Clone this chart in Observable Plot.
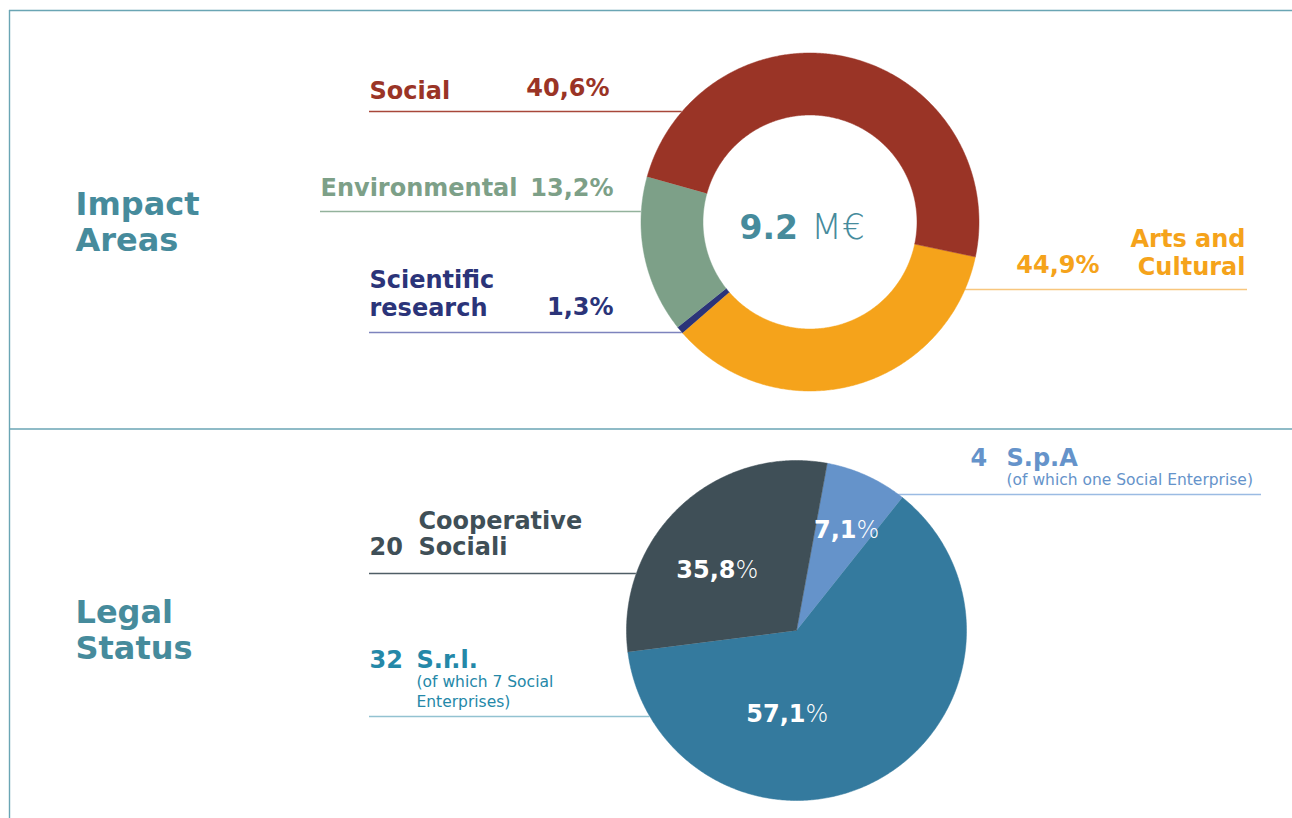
<!DOCTYPE html>
<html>
<head>
<meta charset="utf-8">
<script src="https://cdn.jsdelivr.net/npm/d3@7"></script>
<script src="https://cdn.jsdelivr.net/npm/@observablehq/plot@0.6"></script>
<style>
  html, body { margin: 0; padding: 0; background: #ffffff; }
  #chart svg { display: block; }
</style>
</head>
<body>
<div id="chart"></div>
<script>
// ---------------- DATA ----------------
// Impact areas (ring), clockwise from the Social/Arts boundary
const impactAreas = ["Arts and Cultural", "Scientific research", "Environmental", "Social"];
const impactPercentLabels = ["44,9%", "1,3%", "13,2%", "40,6%"];
// shares as they are drawn in the ring of the reference
const impactDrawnShares = [35.3, 0.7, 15.0, 49.0];
const impactColors = ["#f5a31b", "#2b3479", "#7da088", "#9a3426"];
const impactLineColors = ["#f8c67d", "#7d83bd", "#93b29c", "#a8473a"];
const totalFunding = "9.2";
const totalUnit = "M€";

// Legal status (pie), clockwise from the top
const legalTypes = ["S.p.A", "S.r.l.", "Cooperative Sociali"];
const legalCounts = ["4", "32", "20"];
const legalPercentLabels = ["7,1", "57,1", "35,8"];
// shares as they are drawn in the pie of the reference
const legalDrawnShares = [7.8, 62.3, 29.9];
const legalNotes = ["(of which one Social Enterprise)", "(of which 7 Social\nEnterprises)", ""];
const legalColors = ["#6593ca", "#347a9e", "#3f4f57"];
const legalLineColors = ["#9bbbe3", "#93c2d1", "#4f5e66"];
const legalTextColors = ["#6593ca", "#2488a8", "#3f4f57"];

const sectionTitles = ["Impact\nAreas", "Legal\nStatus"];

// ---------------- LAYOUT ----------------
const W = 1292, H = 818;
const FONT = "'DejaVu Sans', sans-serif";
const teal = "#468b9c";
const frameColor = "#6aa5b4";
const ring = {cx: 809.5, cy: 221.5, r0: 107, r1: 169, start: 101.9};
const pie = {cx: 796, cy: 630, r0: 0, r1: 170, start: 10.4};

// leader lines: y, far end x, side
const impactLeader = [
  {y: 289, far: 1247, side: 1},
  {y: 332, far: 369, side: -1},
  {y: 211, far: 320, side: -1},
  {y: 111, far: 369, side: -1}
];
const legalLeader = [
  {y: 494, far: 1261, side: 1},
  {y: 716, far: 369, side: -1},
  {y: 573, far: 369, side: -1}
];

// ---------------- GEOMETRY ----------------
function slicePolygons(keys, shares, g) {
  const total = d3.sum(shares);
  const pts = [];
  let a = g.start;
  keys.forEach((k, i) => {
    const span = shares[i] / total * 360;
    const a0 = a, a1 = a + span;
    a = a1;
    const n = Math.max(2, Math.ceil(span * 2));
    for (let j = 0; j <= n; j++) {
      const t = (a0 + (a1 - a0) * j / n) * Math.PI / 180;
      pts.push({key: k, x: g.cx + g.r1 * Math.sin(t), y: g.cy - g.r1 * Math.cos(t)});
    }
    if (g.r0 > 0) {
      for (let j = n; j >= 0; j--) {
        const t = (a0 + (a1 - a0) * j / n) * Math.PI / 180;
        pts.push({key: k, x: g.cx + g.r0 * Math.sin(t), y: g.cy - g.r0 * Math.cos(t)});
      }
    } else {
      pts.push({key: k, x: g.cx, y: g.cy});
    }
  });
  return pts;
}
function leaderRows(leaders, g, colors) {
  return leaders.map((d, i) => {
    const dy = d.y - g.cy;
    const near = g.cx + d.side * Math.sqrt(Math.max(0, g.r1 * g.r1 - dy * dy));
    return {y: d.y, x1: Math.min(near, d.far), x2: Math.max(near, d.far), color: colors[i]};
  });
}

const ringPts = slicePolygons(impactAreas, impactDrawnShares, ring);
const piePts = slicePolygons(legalTypes, legalDrawnShares, pie);
const leaders = [...leaderRows(impactLeader, ring, impactLineColors), ...leaderRows(legalLeader, pie, legalLineColors)];

// ---------------- TEXT ----------------
const marks = [];
function txt(x, y, text, o) {
  marks.push(Plot.text([0], {
    x: () => x, y: () => y, text: () => text,
    fill: o.color, fontSize: o.size, fontWeight: o.weight || "bold",
    textAnchor: o.anchor || "start", lineAnchor: "bottom",
    lineHeight: o.lh || 1.1, fontFamily: FONT
  }));
}

// frame
marks.push(Plot.ruleX([9], {y1: 10, y2: H, stroke: frameColor, strokeWidth: 1.4}));
marks.push(Plot.ruleY([10, 428.5], {x1: 9, x2: W, stroke: frameColor, strokeWidth: 1.4}));

// leader lines (under the slices)
leaders.forEach(d => marks.push(Plot.ruleY([d.y], {x1: d.x1, x2: d.x2, stroke: d.color, strokeWidth: 1.3})));

// slices
marks.push(Plot.line(ringPts, {x: "x", y: "y", z: "key", fill: "key", stroke: "key", strokeWidth: 0.5, curve: "linear"}));
marks.push(Plot.line(piePts, {x: "x", y: "y", z: "key", fill: "key", stroke: "key", strokeWidth: 0.5, curve: "linear"}));

// section titles
txt(75, 250, sectionTitles[0], {color: teal, size: 32, lh: 1.1});
txt(75, 658, sectionTitles[1], {color: teal, size: 32, lh: 1.1});

// impact labels
txt(1245, 274, "Arts and\nCultural", {color: impactColors[0], size: 24, anchor: "end", lh: 1.15});
txt(1099, 272, impactPercentLabels[0], {color: impactColors[0], size: 24, anchor: "end"});
txt(369, 315, "Scientific\nresearch", {color: impactColors[1], size: 24, lh: 1.15});
txt(613, 314, impactPercentLabels[1], {color: impactColors[1], size: 24, anchor: "end"});
txt(320, 195, impactAreas[2], {color: impactColors[2], size: 24});
txt(613, 195, impactPercentLabels[2], {color: impactColors[2], size: 24, anchor: "end"});
txt(369, 98, impactAreas[3], {color: impactColors[3], size: 24});
txt(609, 95, impactPercentLabels[3], {color: impactColors[3], size: 24, anchor: "end"});

// centre total
txt(ring.cx - 12, ring.cy + 17, totalFunding, {color: teal, size: 33, anchor: "end"});
txt(ring.cx + 1, ring.cy + 17, totalUnit, {color: teal, size: 36, weight: 200});

// legal labels
txt(970, 465, legalCounts[0], {color: legalTextColors[0], size: 24});
txt(1006, 465, legalTypes[0], {color: legalTextColors[0], size: 24});
txt(1006, 484, legalNotes[0], {color: legalTextColors[0], size: 15.5, weight: "normal"});
txt(369, 667, legalCounts[1], {color: legalTextColors[1], size: 24});
txt(416, 667, legalTypes[1], {color: legalTextColors[1], size: 24});
txt(416, 706, legalNotes[1], {color: legalTextColors[1], size: 15.5, weight: "normal", lh: 1.25});
txt(369, 554, legalCounts[2], {color: legalTextColors[2], size: 24});
txt(418, 554, "Cooperative\nSociali", {color: legalTextColors[2], size: 24, lh: 1.08});

// pie percentages (bold number + light %), split point offsets from the pie centre
const pieLabelOffsets = [[60, -93], [9, 91], [-61, -53]];
legalPercentLabels.forEach((p, i) => {
  const [dx, dy] = pieLabelOffsets[i];
  txt(pie.cx + dx, pie.cy + dy, p, {color: "white", size: 24, anchor: "end"});
  txt(pie.cx + dx, pie.cy + dy, "%", {color: "white", size: 24, weight: 200});
});

const chart = Plot.plot({
  width: W,
  height: H,
  margin: 0,
  x: {domain: [0, W], axis: null},
  y: {domain: [H, 0], axis: null},
  color: {domain: [...impactAreas, ...legalTypes], range: [...impactColors, ...legalColors]},
  style: {fontFamily: FONT, background: "white", overflow: "visible"},
  marks
});
document.getElementById("chart").append(chart);
</script>
</body>
</html>
